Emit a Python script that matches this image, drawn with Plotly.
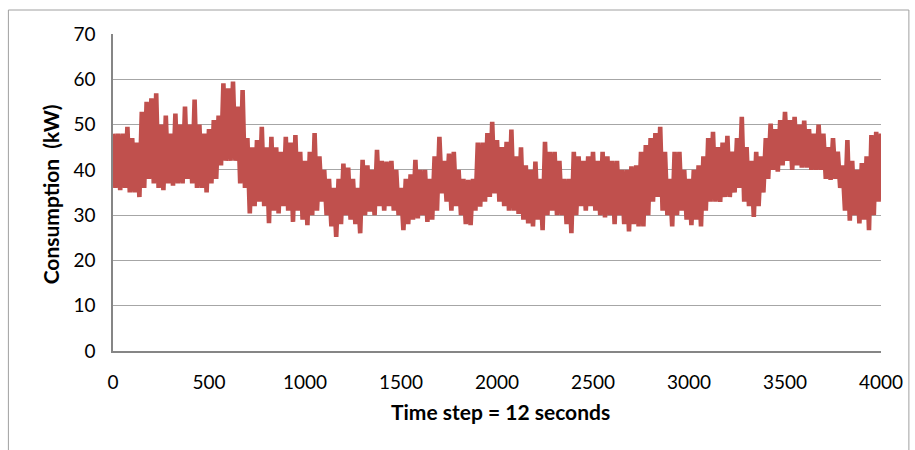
import plotly.graph_objects as go

# Time steps at which the envelope of the dense signal was read (every 25 steps)
steps = list(range(0, 4001, 25))

# Local maxima (upper envelope), kW
hi = [48, 48, 48, 49.5, 47, 46, 52.8, 55, 55.8, 56.9,
      50, 52, 48, 52.4, 50, 54, 50, 55.5, 50, 48,
      49, 51, 52, 59.1, 58, 59.5, 54, 57.6, 47, 45,
      46.6, 49.5, 45, 47.3, 45, 44, 47.3, 46, 47.7, 44,
      42, 44, 48.1, 43, 40, 38, 36, 38, 41.4, 40.5,
      38, 36, 42.2, 41, 40, 44.4, 42, 41.8, 42, 40,
      36, 38, 39, 42.2, 40, 40, 38, 43, 47.3, 42,
      43.6, 44, 40, 38, 37.8, 38, 46, 46, 48.1, 50.6,
      46.6, 45, 46.2, 48.9, 43, 45, 41, 40, 41.8, 38,
      46.2, 44, 44, 42, 38, 38, 44, 43, 42, 43,
      44, 42, 44, 43, 42, 42, 40, 40, 40.8, 41,
      44, 45.5, 47, 48.1, 49.5, 44, 38, 44, 44, 40,
      38, 40, 41, 43, 47, 48.4, 45, 46, 47.5, 44,
      47, 51.7, 45, 42, 44, 43, 47, 50.2, 49, 51,
      52.8, 51, 51.7, 50, 50.9, 49, 48, 50, 48, 45,
      47, 44, 41, 46.6, 42, 40, 41.5, 43, 47.7, 48.4,
      48]

# Local minima (lower envelope), kW
lo = [36, 35.5, 36, 35, 35, 34, 36, 38, 37, 36,
      35.5, 37, 36.5, 37, 37, 38, 37, 36, 36, 35,
      37, 38, 41, 42, 42, 42, 37, 36, 30.4, 32,
      33, 32, 28.2, 31, 30.4, 32, 31, 28.5, 31, 29,
      27.8, 30, 31, 33, 30, 27.5, 25.2, 28, 30, 29,
      28, 26, 30, 30.8, 30, 32, 31, 32, 31, 30,
      26.7, 28, 29, 29.3, 30, 28.5, 29, 31, 34.8, 33,
      31, 32, 30, 28, 27.8, 31, 31.9, 33, 34, 34.8,
      33, 32, 31, 31, 30.3, 29, 28.2, 27.5, 29, 26.7,
      30, 31, 30, 30, 28, 26, 30, 32, 31, 32,
      31, 30, 29.5, 30, 28, 30, 28, 26.4, 28, 27.5,
      27.5, 30, 33, 34, 31, 30, 27.5, 30, 31, 29,
      27.8, 29, 27.5, 31, 33, 33, 32.9, 34, 34, 35,
      36, 33, 32, 29.6, 32, 35, 38, 40, 39.6, 41,
      42, 40, 41, 40.5, 40.5, 40, 40, 40, 38, 37.8,
      38, 36, 31, 28.8, 30, 28.2, 29, 26.7, 30, 33,
      38.3]

# Interleave maxima and minima to rebuild the rapidly oscillating signal
xs, ys = [], []
for i, s in enumerate(steps):
    xs.append(s)
    ys.append(hi[i])
    if i < len(steps) - 1:
        xs.append(s + 12.5)
        ys.append(lo[i])
xs.append(4000)
ys.append(lo[-1])

fig = go.Figure()
fig.add_trace(go.Scatter(x=xs, y=ys, mode="lines",
                         line=dict(color="#C0504D", width=4.6),
                         hoverinfo="skip", showlegend=False))

font_family = "Lato, Carlito, Liberation Sans, sans-serif"

fig.update_layout(
    width=915, height=450,
    margin=dict(l=113, r=31, t=34, b=99),
    paper_bgcolor="white", plot_bgcolor="white",
    font=dict(family=font_family, color="#000000", size=19),
    xaxis=dict(range=[0, 4000], tickvals=[0, 500, 1000, 1500, 2000, 2500, 3000, 3500, 4000],
               showgrid=False, zeroline=False, showline=True, linecolor="#868686",
               linewidth=1.5, ticks="", ticklabelstandoff=13,
               tickfont=dict(size=19, family=font_family)),
    yaxis=dict(range=[0, 70], dtick=10, showgrid=True, gridcolor="#A6A6A6",
               gridwidth=1.2, zeroline=False, showline=True, linecolor="#868686",
               linewidth=1.5, ticks="", ticklabelstandoff=12,
               tickfont=dict(size=19, family=font_family)),
    annotations=[
        dict(text="<b>Time step = 12 seconds</b>", x=0.5045, y=-0.192, xref="paper", yref="paper",
             showarrow=False, xanchor="center", yanchor="middle",
             font=dict(size=21, family=font_family)),
        dict(text="<b>Consumption  (kW)</b>", x=-0.0817, y=0.495, xref="paper", yref="paper",
             showarrow=False, xanchor="center", yanchor="middle", textangle=-90,
             font=dict(size=21, family=font_family)),
    ],
    shapes=[dict(type="rect", xref="paper", yref="paper",
                 x0=-0.1362, x1=1.0363, y0=-0.33, y1=1.0757,
                 line=dict(color="#A0A0A0", width=1), layer="below")],
)

fig.write_html("out.html")
